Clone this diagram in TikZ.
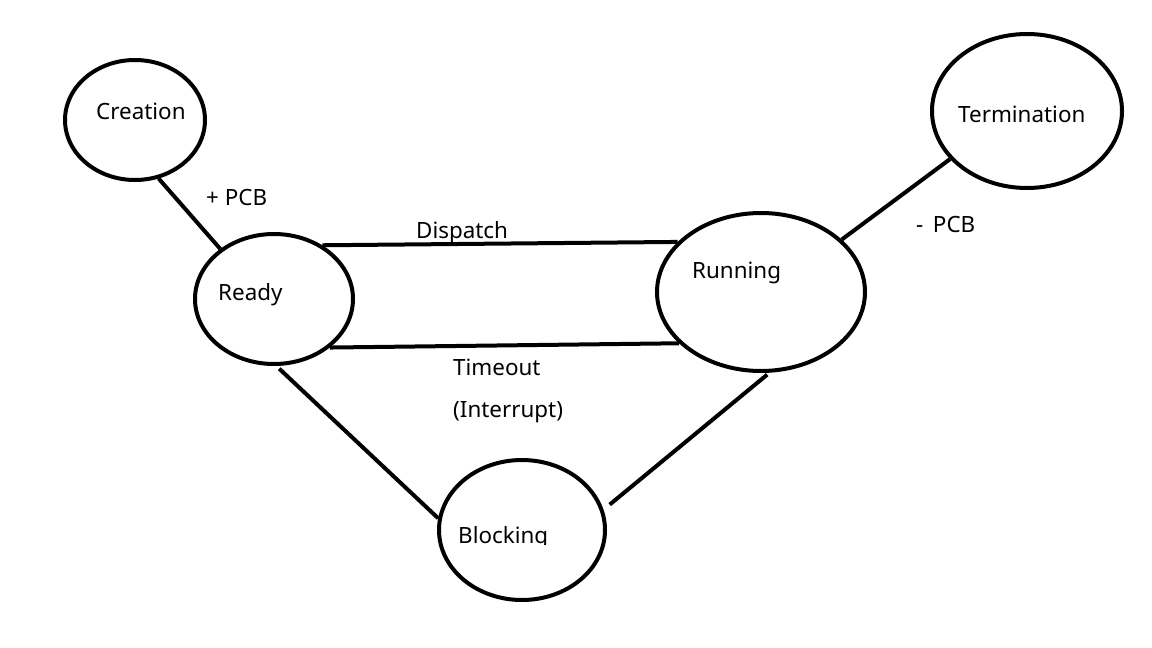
\documentclass[tikz,border=0pt]{standalone}
\usepackage{fontspec}
\setmainfont{Noto Sans}
\usetikzlibrary{shapes.geometric}
\begin{document}
\begin{tikzpicture}[x=1pt,y=-1pt,
  state/.style={draw, ellipse, line width=4pt, inner sep=0pt},
  lbl/.style={anchor=base west, inner sep=0pt, font=\fontsize{22.4}{27}\selectfont},
  conn/.style={line width=4pt}]
\fill[white] (0,0) rectangle (1152,648);
\useasboundingbox (0,0) rectangle (1152,648);
% states
\node[state, minimum width=140pt, minimum height=120pt] (creation) at (135,120) {};
\node[state, minimum width=158pt, minimum height=130pt] (ready) at (274,299) {};
\node[state, minimum width=208pt, minimum height=158pt] (running) at (761,292) {};
\node[state, minimum width=190pt, minimum height=154pt] (termination) at (1027,111) {};
\node[state, minimum width=166pt, minimum height=140pt] (blocking) at (522,530) {};
% connectors
\draw[conn] (creation.-68) -- (ready.137);
\draw[conn] (ready.48) -- (running.149);
\draw[conn] (ready.-41) -- (running.-148);
\draw[conn, shorten <=4pt] (ready.-88) -- (blocking.172);
\draw[conn, shorten <=3pt, shorten >=8pt] (running.-84) -- (blocking.14);
\draw[conn] (running.33) -- (termination.-148);
% labels
\node[lbl] (tCreation) at (96,119) {Creation};
\node[lbl] (tPlus) at (206,205) {+ PCB};
\node[lbl] (tReady) at (218,300) {Ready};
\node[lbl] (tDispatch) at (416,238) {Dispatch};
\node[lbl] (tRunning) at (692,278) {Running};
\node[lbl] (tTermination) at (958,122) {Termination};
\node[lbl] (tMinus) at (916,232) {-\, PCB};
\node[lbl] (tTimeout) at (453,375) {Timeout};
\node[lbl] (tInterrupt) at (453,417) {(Interrupt)};
\begin{scope}
\clip (440,500) rectangle (600,544);
\node[lbl] (tBlocking) at (458,543) {Blocking};
\end{scope}
\end{tikzpicture}
\end{document}
